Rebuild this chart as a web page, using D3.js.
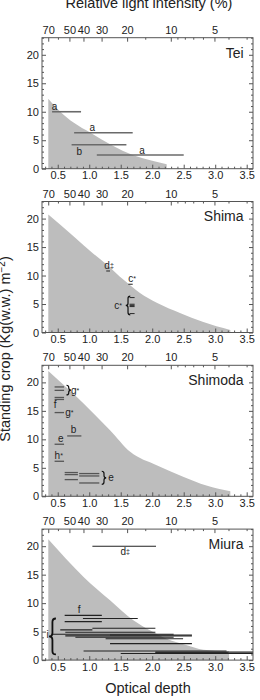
<!DOCTYPE html>
<html><head><meta charset="utf-8">
<script src="https://cdn.jsdelivr.net/npm/d3@7"></script>
<style>body{margin:0;background:#fff} svg{display:block} text{font-family:"Liberation Sans",Arial,sans-serif;fill:#222}</style>
</head><body><svg id="c" width="260" height="700"></svg>
<script>
// ---------- data ----------
const panelNames = ["Tei", "Shima", "Shimoda", "Miura"];
const depthTicks = [0.5, 1.0, 1.5, 2.0, 2.5, 3.0, 3.5];
const cropTicks = [0, 5, 10, 15, 20];
const lightTicks = [70, 50, 40, 30, 20, 10, 5];
const lightMinorTicks = [60, 15, 9, 8, 7, 6, 4, 3];

// standing-crop envelope (optical depth -> kg m-2)
const teiDepth = [0.35, 0.54, 0.75, 1.02, 1.36, 1.70, 2.00, 2.23];
const teiCrop  = [12.3, 10.0, 8.1, 6.3, 4.1, 2.35, 1.4, 0.8];
const shimaDepth = [0.35, 0.75, 1.07, 1.28, 1.55, 1.80, 2.08, 2.45, 2.80, 3.24];
const shimaCrop  = [20.7, 16.9, 13.8, 11.9, 9.2, 7.0, 5.2, 3.4, 1.9, 0.45];
const shimodaDepth = [0.35, 0.91, 1.33, 1.65, 2.07, 2.50, 2.86, 3.24];
const shimodaCrop  = [22.0, 16.3, 11.6, 7.8, 5.45, 3.4, 1.9, 0.9];
const miuraDepth = [0.35, 0.91, 1.33, 1.70, 1.97, 2.23, 2.55, 2.81, 3.00, 3.22];
const miuraCrop  = [21.2, 14.6, 10.5, 7.0, 5.2, 3.75, 2.6, 1.8, 1.65, 1.6];

// horizontal ranges: [depth from, depth to, crop]
const teiSegments = [[0.41, 0.87, 10.0], [0.76, 1.69, 6.3], [0.72, 1.59, 4.2], [1.12, 2.50, 2.4]];
const shimaSegments = [[1.27, 1.33, 10.8], [1.62, 1.69, 8.47], [1.64, 1.72, 6.14],
  [1.64, 1.72, 4.96], [1.64, 1.72, 4.76], [1.64, 1.72, 4.56], [1.64, 1.72, 3.33]];
const shimodaSegments = [[0.45, 0.60, 19.2], [0.45, 0.60, 18.6], [0.45, 0.60, 17.35], [0.45, 0.60, 17.0],
  [0.45, 0.60, 14.7], [0.65, 0.875, 10.6], [0.45, 0.60, 9.14], [0.45, 0.60, 6.15],
  [0.61, 0.82, 4.17], [0.61, 0.82, 3.81], [0.61, 0.82, 2.93],
  [0.84, 1.16, 3.99], [0.84, 1.16, 3.57], [0.84, 1.16, 2.34]];
const miuraSegments = [[1.05, 2.06, 20.0], [0.61, 1.20, 7.85], [0.90, 1.77, 7.3], [0.61, 1.20, 6.75],
  [1.05, 2.05, 5.6], [0.54, 1.05, 5.3], [0.62, 2.05, 4.9], [0.40, 2.34, 4.55], [1.33, 2.63, 4.4],
  [0.62, 2.63, 4.25], [0.78, 2.34, 4.0], [1.26, 2.49, 3.75], [1.33, 2.63, 2.9],
  [0.91, 3.18, 1.6], [2.05, 3.60, 1.4], [1.50, 3.60, 1.15], [2.05, 3.20, 1.3]];

// letter annotations: [text, mark, depth, crop, anchor]
const teiLabels = [["a", "", 0.45, 10.35, "middle"], ["a", "", 1.05, 6.6, "middle"],
  ["b", "", 0.84, 2.47, "middle"], ["a", "", 1.84, 2.65, "middle"]];
const shimaLabels = [["d", "‡", 1.24, 11.1, "start"], ["c", "*", 1.62, 8.8, "start"], ["c", "*", 1.52, 4.2, "end"]];
const shimodaLabels = [["", "}", 0, 0, ""], ["g", "*", 0.71, 17.9, "start"], ["f", "", 0.46, 15.5, "middle"],
  ["g", "*", 0.62, 14.15, "start"], ["b", "", 0.75, 11.1, "middle"], ["e", "", 0.55, 9.5, "middle"],
  ["h", "*", 0.45, 6.5, "start"], ["e", "", 1.30, 2.6, "start"]].filter(l => l[0] !== "");
const miuraLabels = [["d", "‡", 1.57, 18.4, "middle"], ["f", "", 0.84, 8.3, "middle"], ["i", "", 0.34, 3.8, "middle"]];

// braces: [tip depth, crop from, crop to, side (-1 = "{", 1 = "}")]
const shimaBraces = [[1.58, 6.4, 3.1, -1]];
const shimodaBraces = [[0.71, 19.5, 17.8, 1], [1.27, 4.4, 2.1, 1]];
const miuraBraces = [[0.36, 7.3, 1.0, -1]];

// ---------- drawing ----------
const panels = [
  {name: panelNames[0], depth: teiDepth, crop: teiCrop, segs: teiSegments, labels: teiLabels, braces: [], segColor: "#6a6a6a", segW: 1.6},
  {name: panelNames[1], depth: shimaDepth, crop: shimaCrop, segs: shimaSegments, labels: shimaLabels, braces: shimaBraces, segColor: "#333", segW: 1.1},
  {name: panelNames[2], depth: shimodaDepth, crop: shimodaCrop, segs: shimodaSegments, labels: shimodaLabels, braces: shimodaBraces, segColor: "#555", segW: 1.3},
  {name: panelNames[3], depth: miuraDepth, crop: miuraCrop, segs: miuraSegments, labels: miuraLabels, braces: miuraBraces, segColor: "#222", segW: 1.1}
];

const svg = d3.select("#c");
const left = 42, right = 253, ph = 131, gap = 163.8, top0 = 37.7;
const x = d3.scaleLinear().domain([0.25, 3.6]).range([left, right]);
const depthOfLight = v => -Math.log(v / 100);
const frameColor = "#555";

function bracePath(xt, ya, yb, side, w) {
  const y0 = Math.min(ya, yb), y1 = Math.max(ya, yb), ym = (y0 + y1) / 2;
  const xs = xt - side * w, xc = xt - side * w / 2;
  const q = Math.min(w / 2, (y1 - y0) / 4);
  return `M${xs},${y0} Q${xc},${y0} ${xc},${y0 + q} L${xc},${ym - q} Q${xc},${ym} ${xt},${ym} ` +
         `Q${xc},${ym} ${xc},${ym + q} L${xc},${y1 - q} Q${xc},${y1} ${xs},${y1}`;
}

panels.forEach((p, i) => {
  const t = top0 + i * gap;
  const y = d3.scaleLinear().domain([0, 23]).range([t + ph, t]);
  const g = svg.append("g");

  const pts = p.depth.map((d, k) => [d, p.crop[k]]);
  g.append("path").datum(pts)
    .attr("d", d3.area().x(d => x(d[0])).y0(y(0)).y1(d => y(d[1])).curve(d3.curveMonotoneX))
    .attr("fill", "#bdbdbd");

  g.selectAll("line.seg").data(p.segs).join("line").attr("class", "seg")
    .attr("x1", d => x(d[0])).attr("x2", d => x(Math.min(d[1], 3.6)))
    .attr("y1", d => y(d[2])).attr("y2", d => y(d[2]))
    .attr("stroke", p.segColor).attr("stroke-width", p.segW);

  g.selectAll("path.brace").data(p.braces).join("path").attr("class", "brace")
    .attr("d", d => bracePath(x(d[0]), y(d[1]), y(d[2]), d[3], i === 3 ? 7 : 4.5))
    .attr("fill", "none").attr("stroke", "#111").attr("stroke-width", i === 3 ? 1.8 : 1.2);

  const lab = g.selectAll("text.lab").data(p.labels).join("text").attr("class", "lab")
    .attr("x", d => x(d[2])).attr("y", d => y(d[3]))
    .attr("text-anchor", d => d[4]).attr("font-size", 10);
  lab.append("tspan").text(d => d[0]);
  lab.append("tspan").attr("font-size", 7).attr("dy", -1).text(d => d[1]);

  // frame
  g.append("rect").attr("x", left).attr("y", t).attr("width", right - left).attr("height", ph)
    .attr("fill", "none").attr("stroke", frameColor).attr("stroke-width", 1);

  // bottom axis
  const minorDepth = d3.range(3, 36).map(v => v / 10).filter(v => Math.abs(v * 2 - Math.round(v * 2)) > 1e-6);
  const ab = g.append("g").attr("transform", `translate(0,${t + ph})`)
    .call(d3.axisBottom(x).tickValues(depthTicks).tickFormat(d3.format(".1f")).tickSize(-4).tickPadding(3));
  g.append("g").attr("transform", `translate(0,${t + ph})`)
    .call(d3.axisBottom(x).tickValues(minorDepth).tickFormat("").tickSize(-2));
  // top axis (relative light intensity)
  const at = g.append("g").attr("transform", `translate(0,${t})`);
  at.selectAll("line.maj").data(lightTicks).join("line").attr("class", "maj")
    .attr("x1", d => x(depthOfLight(d))).attr("x2", d => x(depthOfLight(d))).attr("y1", 0).attr("y2", 4);
  at.selectAll("line.min").data(lightMinorTicks).join("line").attr("class", "min")
    .attr("x1", d => x(depthOfLight(d))).attr("x2", d => x(depthOfLight(d))).attr("y1", 0).attr("y2", 2);
  at.selectAll("line").attr("stroke", frameColor);
  at.selectAll("text").data(lightTicks).join("text")
    .attr("x", d => x(depthOfLight(d))).attr("y", -4).attr("text-anchor", "middle")
    .attr("font-size", 11).text(d => d);
  // left axis
  g.append("g").attr("transform", `translate(${left},0)`)
    .call(d3.axisLeft(y).tickValues(cropTicks).tickSize(-4).tickPadding(3));
  g.append("g").attr("transform", `translate(${left},0)`)
    .call(d3.axisLeft(y).tickValues(d3.range(0, 24).filter(v => v % 5)).tickFormat("").tickSize(-2));
  // right axis
  g.append("g").attr("transform", `translate(${right},0)`)
    .call(d3.axisRight(y).tickValues(cropTicks).tickFormat("").tickSize(-4));
  g.append("g").attr("transform", `translate(${right},0)`)
    .call(d3.axisRight(y).tickValues(d3.range(0, 24).filter(v => v % 5)).tickFormat("").tickSize(-2));

  g.selectAll(".domain").remove();
  g.selectAll(".tick line").attr("stroke", frameColor);
  g.selectAll(".tick text").attr("font-size", 11).attr("fill", "#222");

  g.append("text").attr("x", x(3.45)).attr("y", y(19.5)).attr("text-anchor", "end")
    .attr("font-size", 14).text(p.name);
});

svg.append("text").attr("x", 149).attr("y", 8).attr("text-anchor", "middle")
  .attr("font-size", 14.5).text("Relative light intensity (%)");
svg.append("text").attr("x", 148).attr("y", 693).attr("text-anchor", "middle")
  .attr("font-size", 14.5).text("Optical depth");
const yt = svg.append("text").attr("transform", "translate(10,349) rotate(-90)")
  .attr("text-anchor", "middle").attr("font-size", 14.5);
yt.append("tspan").text("Standing crop (Kg(w.w.) m");
yt.append("tspan").attr("dy", -5).attr("font-size", 10).text("−2");
yt.append("tspan").attr("dy", 5).text(")");
</script></body></html>
